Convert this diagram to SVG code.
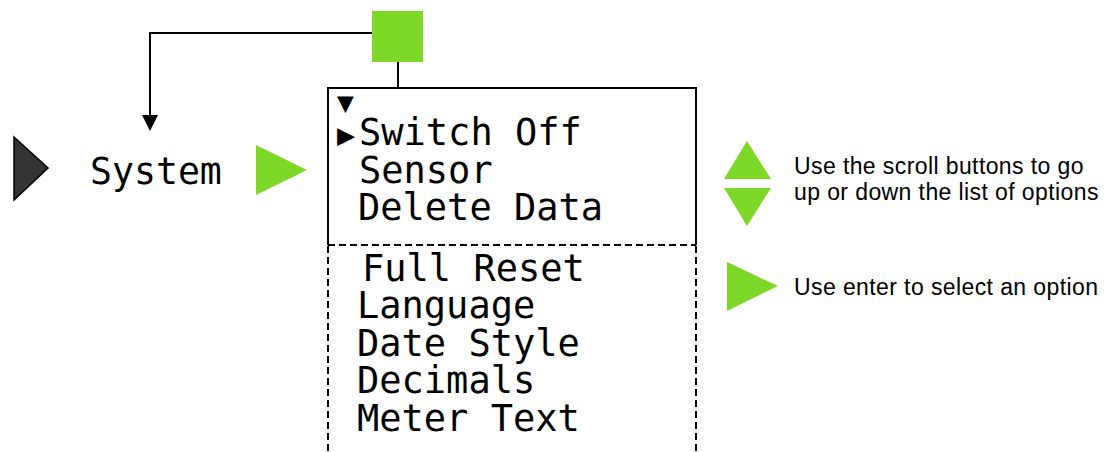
<svg xmlns="http://www.w3.org/2000/svg" width="1104" height="452" viewBox="0 0 1104 452">
  <defs>
    <style>
      .mono { font-family: "DejaVu Sans Mono", "Liberation Mono", monospace; fill: #000; }
      .menu { font-size: 37px; }
      .note { font-family: "Liberation Sans", Arial, sans-serif; font-size: 23px; letter-spacing: 0.4px; fill: #000; }
      .btn { fill: #7ed827; }
      .wire { fill: none; stroke: #000; stroke-width: 2; }
      .dash { fill: none; stroke: #000; stroke-width: 2; stroke-dasharray: 7 4; }
    </style>
  </defs>

  <!-- back / menu button -->
  <g id="menu-button">
    <rect class="btn" x="372" y="11" width="51" height="51"/>
  </g>

  <!-- connectors -->
  <g id="connectors">
    <polyline class="wire" points="372,33 150,33 150,116"/>
    <path d="M142,115 L158,115 L150,131 Z" fill="#000"/>
    <line class="wire" x1="398" y1="62" x2="398" y2="88"/>
  </g>

  <!-- current level marker -->
  <g id="level-marker">
    <polygon points="14,137 48,168 14,200" fill="#333" stroke="#000" stroke-width="1.5"/>
  </g>

  <!-- System entry -->
  <g id="system">
    <text class="mono" x="90" y="184" font-size="36.5">System</text>
  </g>

  <!-- enter arrow -->
  <g id="enter-arrow">
    <polygon class="btn" points="256,145 307,170 256,195"/>
  </g>

  <!-- display window with visible items -->
  <g id="display">
    <path class="wire" d="M328,245 L328,88 L696,88 L696,245"/>
    <line class="dash" x1="328" y1="245" x2="696" y2="245"/>
    <text class="mono" x="337" y="112" font-size="28">▼</text>
    <text class="mono" x="337" y="145" font-size="30">▶</text>
    <text class="mono menu" x="359" y="145">Switch Off</text>
    <text class="mono menu" x="359" y="183">Sensor</text>
    <text class="mono menu" x="358" y="220">Delete Data</text>
  </g>

  <!-- hidden items below the window -->
  <g id="more-items">
    <line class="dash" x1="328" y1="246" x2="328" y2="452" stroke-dasharray="7 7"/>
    <line class="dash" x1="696" y1="246" x2="696" y2="452" stroke-dasharray="7 7"/>
    <text class="mono menu" x="362" y="281">Full Reset</text>
    <text class="mono menu" x="357" y="318">Language</text>
    <text class="mono menu" x="357" y="356">Date Style</text>
    <text class="mono menu" x="357" y="393">Decimals</text>
    <text class="mono menu" x="357" y="431">Meter Text</text>
  </g>

  <!-- legend: scroll buttons -->
  <g id="legend-scroll">
    <polygon class="btn" points="747,141 771,179 724,179"/>
    <polygon class="btn" points="724,188 771,188 747,226"/>
    <text class="note" x="794" y="174">Use the scroll buttons to go</text>
    <text class="note" x="794" y="200">up or down the list of options</text>
  </g>

  <!-- legend: enter button -->
  <g id="legend-enter">
    <polygon class="btn" points="727,262 778,286 727,311"/>
    <text class="note" x="794" y="295">Use enter to select an option</text>
  </g>
</svg>
